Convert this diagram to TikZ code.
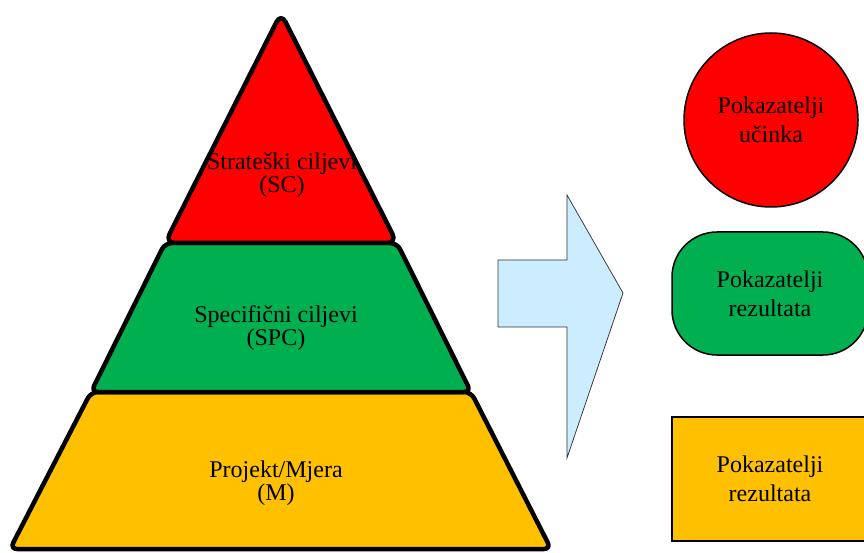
\documentclass[tikz,border=0pt]{standalone}
\usepackage{fontspec}
\setmainfont{Liberation Serif}
\newfontfamily\tnr{Liberation Serif}
\definecolor{scred}{HTML}{FF0000}
\definecolor{spcgreen}{HTML}{00B050}
\definecolor{myellow}{HTML}{FFC000}
\definecolor{arrowblue}{HTML}{CCECFF}
\tikzset{
  layer/.style={draw=black, line width=4.5pt, rounded corners=7pt, line join=round},
  lbl/.style={align=center, font=\tnr\fontsize{24}{23}\selectfont},
  kpi/.style={draw=black, line width=1.5pt, align=center, inner sep=0pt,
    font=\tnr\fontsize{24}{29}\selectfont}
}
\begin{document}
\begin{tikzpicture}[x=1pt,y=-1pt]
  % Page
  \useasboundingbox (0,0) rectangle (864,553);
  \clip (0,0) rectangle (864,553);

  % Pyramid corners
  \coordinate (T) at (281,13);
  \coordinate (SL) at (165,243);
  \coordinate (SR) at (397,243);
  \coordinate (PL) at (91,392);
  \coordinate (PR) at (471,392);
  \coordinate (ML) at (10,549);
  \coordinate (MR) at (551,549);

  % Layers, bottom first
  \filldraw[layer, fill=myellow] (PL) -- (PR) -- (MR) -- (ML) -- cycle;
  \filldraw[layer, fill=spcgreen] (SL) -- (SR) -- (PR) -- (PL) -- cycle;
  \filldraw[layer, fill=scred, rounded corners=10pt] (T) -- (SR) -- (SL) -- cycle;

  % Layer texts
  \node[lbl] (sc) at (282,175) {Strateški ciljevi\\(SC)};
  \node[lbl] (spc) at (276,328) {Specifični ciljevi\\(SPC)};
  \node[lbl] (m) at (276,483) {Projekt/Mjera\\(M)};

  % Block arrow
  \filldraw[fill=arrowblue, draw=black!80, line width=0.75pt]
    (498,260) -- (567,260) -- (567,195) -- (623,293)
    -- (567,458) -- (567,327) -- (498,327) -- cycle;

  % Indicators
  \node[kpi, circle, fill=scred, minimum size=174pt] (ucinak) at (771,120)
    {Pokazatelji\\učinka};
  \node[kpi, rectangle, rounded corners=45pt, fill=spcgreen,
    minimum width=196pt, minimum height=123pt] (rez1) at (770,293.5)
    {Pokazatelji\\rezultata};
  \node[kpi, rectangle, line width=2pt, fill=myellow,
    minimum width=196pt, minimum height=124pt] (rez2) at (770,479)
    {Pokazatelji\\rezultata};

\end{tikzpicture}
\end{document}
